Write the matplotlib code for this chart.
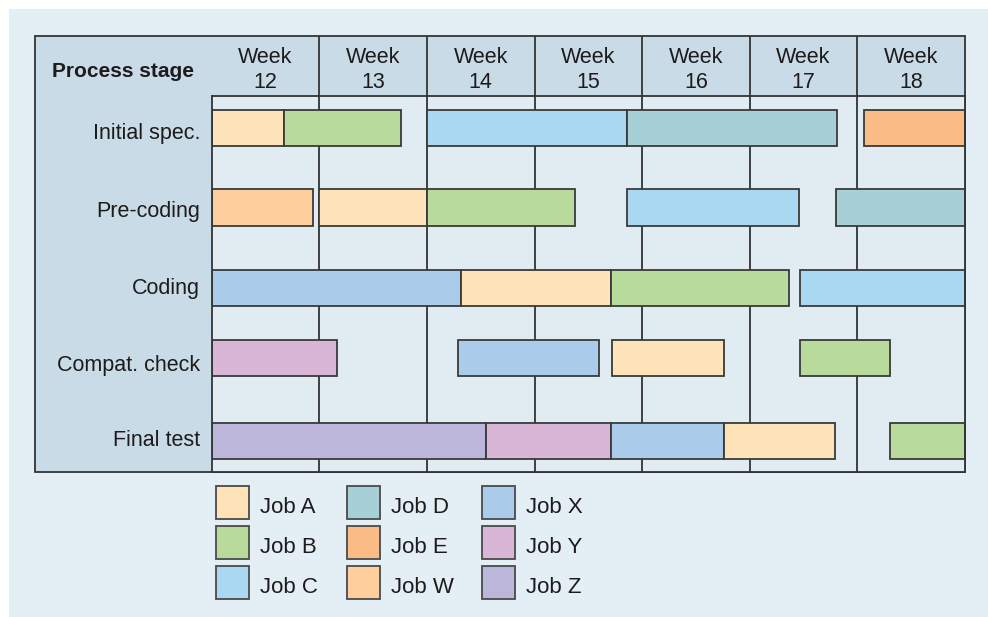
import matplotlib.pyplot as plt
from matplotlib.patches import Rectangle

plt.rcParams['font.family'] = ['Liberation Sans', 'DejaVu Sans']

# data
stages = ["Initial spec.", "Pre-coding", "Coding", "Compat. check", "Final test"]
weeks = [12, 13, 14, 15, 16, 17, 18]

jobs = ["Job A", "Job B", "Job C", "Job D", "Job E", "Job W", "Job X", "Job Y", "Job Z"]
job_colors = ["#fee3b8", "#b8da9b", "#aad8f2", "#a6cfd6", "#fbbb85",
              "#fecf9c", "#abcbea", "#d9b5d6", "#bbb6da"]

# (job, start week, end week) for each stage
initial_spec = [("Job A", 12.0, 12.67), ("Job B", 12.67, 13.76), ("Job C", 14.0, 15.86),
                ("Job D", 15.86, 17.81), ("Job E", 18.06, 19.0)]
pre_coding = [("Job W", 12.0, 12.94), ("Job A", 13.0, 14.0), ("Job B", 14.0, 15.38),
              ("Job C", 15.86, 17.46), ("Job D", 17.80, 19.0)]
coding = [("Job X", 12.0, 14.32), ("Job A", 14.32, 15.71), ("Job B", 15.71, 17.36),
          ("Job C", 17.47, 19.0)]
compat_check = [("Job Y", 12.0, 13.16), ("Job X", 14.29, 15.60), ("Job A", 15.72, 16.76),
                ("Job B", 17.47, 18.30)]
final_test = [("Job Z", 12.0, 14.55), ("Job Y", 14.55, 15.71), ("Job X", 15.71, 16.76),
              ("Job A", 16.76, 17.79), ("Job B", 18.30, 19.0)]
schedule = [initial_spec, pre_coding, coding, compat_check, final_test]

# layout (pixel units)
W, H = 988, 617
row_y = [128, 207.5, 288, 358, 441]
label_base = [139.3, 216.7, 294.3, 371, 446]
bar_h = 36.5
tbl_l, tbl_r, tbl_t, tbl_b = 35, 965, 36, 472
grid_l, head_b = 211.7, 96
line_c = "#333333"
txt_c = "#1e1b1c"
color_of = dict(zip(jobs, job_colors))

fig = plt.figure(figsize=(W / 100, H / 100), dpi=100)
fig.patch.set_facecolor("white")

# background axes in pixel coords
bg = fig.add_axes([0, 0, 1, 1])
bg.set_xlim(0, W)
bg.set_ylim(H, 0)
bg.axis("off")
bg.add_patch(Rectangle((9, 9), W - 9, H - 9, facecolor="#e3eef5", edgecolor="none"))
bg.add_patch(Rectangle((tbl_l, tbl_t), tbl_r - tbl_l, tbl_b - tbl_t,
                       facecolor="#c8dbe7", edgecolor=line_c, lw=1.3))
bg.text((tbl_l + grid_l) / 2, 77.3, "Process stage", fontsize=15,
        fontweight="bold", ha="center", va="baseline", color=txt_c)
for name, yb in zip(stages, label_base):
    bg.text(200, yb, name, fontsize=15.5, ha="right", va="baseline", color=txt_c)

# legend
leg_x = [216, 347, 481.7]
leg_y = [502.5, 542.5, 582.5]
sq = 33
for i, (job, col) in enumerate(zip(jobs, job_colors)):
    x = leg_x[i // 3]
    y = leg_y[i % 3]
    bg.add_patch(Rectangle((x, y - sq / 2), sq, sq, facecolor=col, edgecolor="#4a4a4a", lw=1.3))
    bg.text(x + 44, y + 10.2, job, fontsize=16, ha="left", va="baseline", color=txt_c)

# gantt axes: x in weeks, y in pixels
ax = fig.add_axes([grid_l / W, 1 - tbl_b / H, (tbl_r - grid_l) / W, (tbl_b - head_b) / H])
ax.set_facecolor("#e0ebf2")
ax.set_xlim(12, 19)
ax.set_ylim(tbl_b, head_b)
ax.set_xticks([])
ax.set_yticks([])
for s in ax.spines.values():
    s.set_color(line_c)
    s.set_linewidth(1.3)

ax.vlines(weeks[1:], tbl_t, tbl_b, color=line_c, lw=1.3, zorder=1, clip_on=False)
for wk in weeks:
    ax.text(wk + 0.5, 62.7, "Week", fontsize=15.5, ha="center",
            va="baseline", color=txt_c, clip_on=False)
    ax.text(wk + 0.5, 87.7, str(wk), fontsize=15.5, ha="center",
            va="baseline", color=txt_c, clip_on=False)

for y, stage in zip(row_y, schedule):
    for job, start, end in stage:
        ax.barh(y, end - start, left=start, height=bar_h, color=color_of[job],
                edgecolor="#3a3a3a", linewidth=1.3, zorder=2)

fig.savefig("out.png", dpi=100)
